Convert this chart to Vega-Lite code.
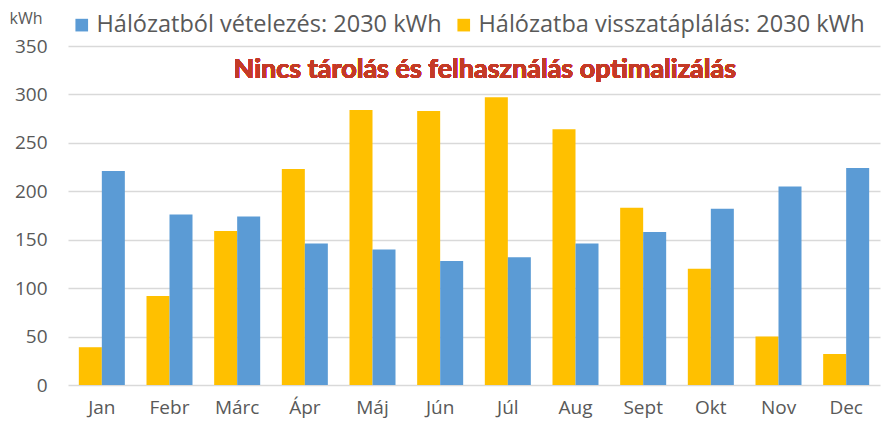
{
  "$schema": "https://vega.github.io/schema/vega-lite/v6.json",
  "width": 812,
  "height": 339,
  "autosize": "none",
  "padding": {"left": 68, "top": 46, "right": 3, "bottom": 40},
  "background": "white",
  "config": {
    "font": "Open Sans",
    "view": {"stroke": null},
    "axis": {"labelColor": "#595959", "labelFont": "Open Sans", "titleFont": "Open Sans"},
    "legend": {"labelFont": "Open Sans"}
  },
  "data": {
    "values": [
      {"honap": "Jan", "sorozat": "Hálózatba visszatáplálás: 2030 kWh", "kwh": 39},
      {"honap": "Jan", "sorozat": "Hálózatból vételezés: 2030 kWh", "kwh": 221},
      {"honap": "Febr", "sorozat": "Hálózatba visszatáplálás: 2030 kWh", "kwh": 92},
      {"honap": "Febr", "sorozat": "Hálózatból vételezés: 2030 kWh", "kwh": 176},
      {"honap": "Márc", "sorozat": "Hálózatba visszatáplálás: 2030 kWh", "kwh": 159},
      {"honap": "Márc", "sorozat": "Hálózatból vételezés: 2030 kWh", "kwh": 174},
      {"honap": "Ápr", "sorozat": "Hálózatba visszatáplálás: 2030 kWh", "kwh": 223},
      {"honap": "Ápr", "sorozat": "Hálózatból vételezés: 2030 kWh", "kwh": 146},
      {"honap": "Máj", "sorozat": "Hálózatba visszatáplálás: 2030 kWh", "kwh": 284},
      {"honap": "Máj", "sorozat": "Hálózatból vételezés: 2030 kWh", "kwh": 140},
      {"honap": "Jún", "sorozat": "Hálózatba visszatáplálás: 2030 kWh", "kwh": 283},
      {"honap": "Jún", "sorozat": "Hálózatból vételezés: 2030 kWh", "kwh": 128},
      {"honap": "Júl", "sorozat": "Hálózatba visszatáplálás: 2030 kWh", "kwh": 297},
      {"honap": "Júl", "sorozat": "Hálózatból vételezés: 2030 kWh", "kwh": 132},
      {"honap": "Aug", "sorozat": "Hálózatba visszatáplálás: 2030 kWh", "kwh": 264},
      {"honap": "Aug", "sorozat": "Hálózatból vételezés: 2030 kWh", "kwh": 146},
      {"honap": "Sept", "sorozat": "Hálózatba visszatáplálás: 2030 kWh", "kwh": 183},
      {"honap": "Sept", "sorozat": "Hálózatból vételezés: 2030 kWh", "kwh": 158},
      {"honap": "Okt", "sorozat": "Hálózatba visszatáplálás: 2030 kWh", "kwh": 120},
      {"honap": "Okt", "sorozat": "Hálózatból vételezés: 2030 kWh", "kwh": 182},
      {"honap": "Nov", "sorozat": "Hálózatba visszatáplálás: 2030 kWh", "kwh": 50},
      {"honap": "Nov", "sorozat": "Hálózatból vételezés: 2030 kWh", "kwh": 205},
      {"honap": "Dec", "sorozat": "Hálózatba visszatáplálás: 2030 kWh", "kwh": 32},
      {"honap": "Dec", "sorozat": "Hálózatból vételezés: 2030 kWh", "kwh": 224}
    ]
  },
  "layer": [
    {
      "mark": {"type": "bar"},
      "encoding": {
        "x": {
          "field": "honap",
          "type": "nominal",
          "scale": {"domain": ["Jan", "Febr", "Márc", "Ápr", "Máj", "Jún", "Júl", "Aug", "Sept", "Okt", "Nov", "Dec"], "paddingInner": 0.32, "paddingOuter": 0.16},
          "axis": {
            "title": null,
            "labelAngle": 0,
            "labelFontSize": 19,
            "labelPadding": 13,
            "domain": false,
            "ticks": false,
            "grid": false
          }
        },
        "xOffset": {
          "field": "sorozat",
          "type": "nominal",
          "scale": {"domain": ["Hálózatba visszatáplálás: 2030 kWh", "Hálózatból vételezés: 2030 kWh"], "paddingInner": 0, "paddingOuter": 0}
        },
        "y": {
          "field": "kwh",
          "type": "quantitative",
          "scale": {"domain": [0, 350], "nice": false},
          "axis": {
            "values": [0, 50, 100, 150, 200, 250, 300, 350],
            "title": "kWh",
            "titleAngle": 0,
            "titleX": -59,
            "titleY": -28,
            "titleAlign": "left",
            "titleBaseline": "middle",
            "titleFontSize": 16,
            "titleFontWeight": "normal",
            "titleColor": "#595959",
            "labelFontSize": 19,
            "labelPadding": 21,
            "domain": false,
            "ticks": false,
            "gridColor": "#D9D9D9",
            "gridWidth": 1.5
          }
        },
        "color": {
          "field": "sorozat",
          "type": "nominal",
          "scale": {
            "domain": ["Hálózatból vételezés: 2030 kWh", "Hálózatba visszatáplálás: 2030 kWh"],
            "range": ["#5B9BD5", "#FFC000"]
          },
          "legend": {
            "title": null,
            "orient": "none",
            "legendX": 2,
            "legendY": -33,
            "direction": "horizontal",
            "symbolType": "square",
            "symbolSize": 160,
            "symbolStrokeWidth": 0,
            "labelFont": "Open Sans",
            "labelFontSize": 23.5,
            "labelColor": "#595959",
            "labelLimit": 600,
            "labelOffset": 3,
            "columnPadding": 10
          }
        }
      }
    },
    {
      "mark": {
        "type": "text",
        "font": "Lato",
        "fontSize": 27,
        "fontWeight": "bold",
        "fill": "#C43A26",
        "align": "center",
        "baseline": "middle"
      },
      "encoding": {
        "x": {"datum": "Júl", "bandPosition": 0},
        "y": {"datum": 325},
        "text": {"value": "Nincs tárolás és felhasználás optimalizálás"}
      }
    }
  ]
}
